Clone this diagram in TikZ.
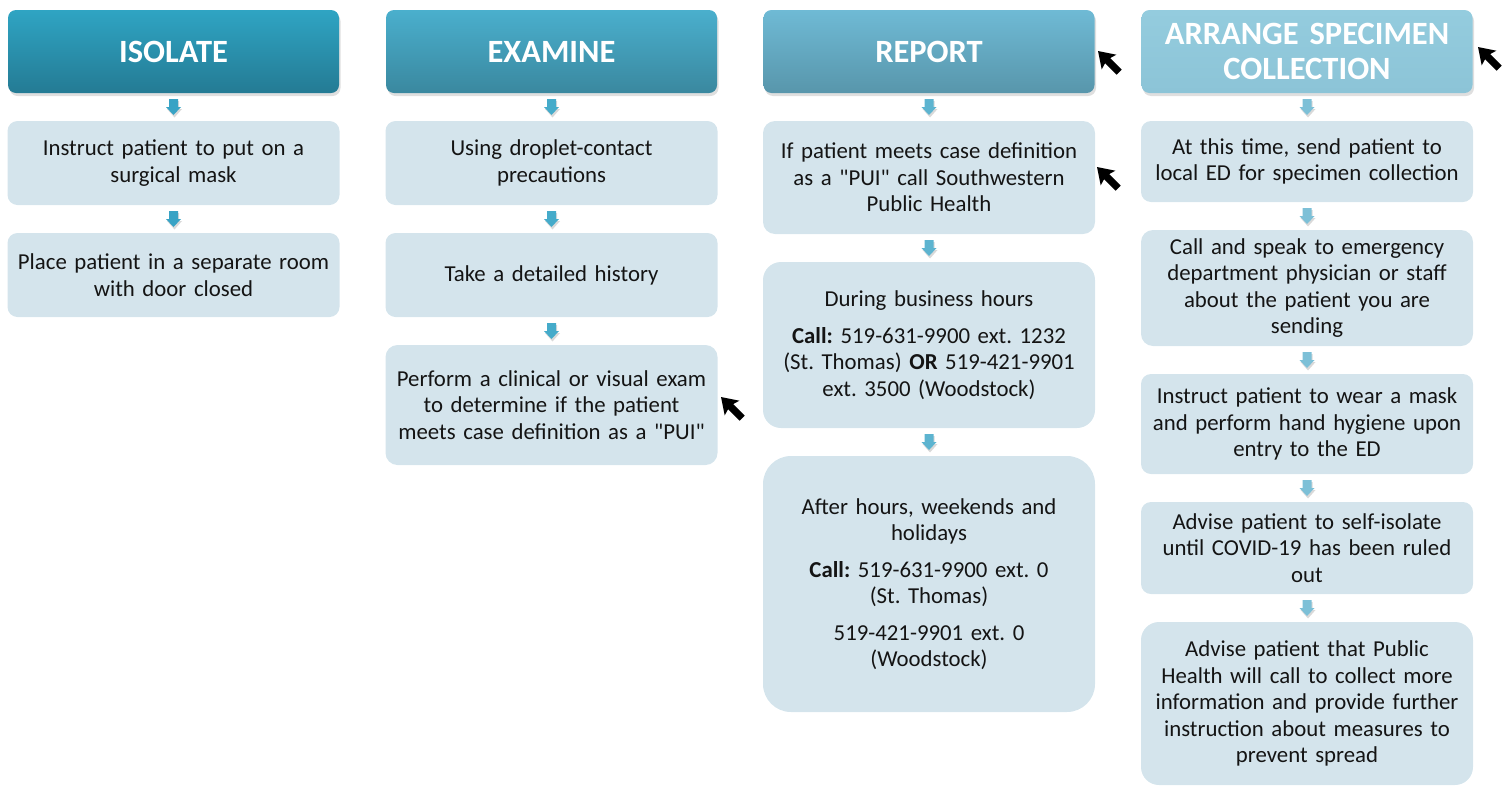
\documentclass[tikz,border=0pt]{standalone}
\usepackage{fontspec}
\setmainfont{Carlito}
\newfontfamily\dqfont{Carlito}
\usetikzlibrary{positioning,calc,shadows}

\definecolor{boxfill}{HTML}{D4E4EC}
\definecolor{txtcol}{HTML}{141414}
\definecolor{isoTop}{HTML}{2FA4C3}
\definecolor{isoBot}{HTML}{247B94}
\definecolor{exaTop}{HTML}{4AAFCD}
\definecolor{exaBot}{HTML}{3A889F}
\definecolor{repTop}{HTML}{6FBAD5}
\definecolor{repBot}{HTML}{5896AB}
\definecolor{arrTop}{HTML}{94CCDE}
\definecolor{arrBot}{HTML}{8CC4D7}
\definecolor{isoArr}{HTML}{38A3C5}
\definecolor{exaArr}{HTML}{45ABCA}
\definecolor{repArr}{HTML}{5DB4D0}
\definecolor{arrArr}{HTML}{7DC0D7}

\newcommand\dq{{\dqfont"}}

\tikzset{
  hdr/.style={rounded corners=8pt, minimum width=331pt, minimum height=83pt,
    text width=320pt, align=center, text=white, inner sep=0pt,
    font=\fontsize{32.5}{35}\selectfont\bfseries,
    drop shadow={shadow xshift=1.5pt, shadow yshift=-3pt, opacity=0.25}},
  stepbox/.style={fill=boxfill, rounded corners=#1, minimum width=332pt,
    text width=326pt, align=center, text=txtcol, inner sep=0pt,
    font=\fontsize{22.8}{26.5}\selectfont},
  stepbox/.default=10pt,
  pics/blockarr/.style={code={
    \fill[black, opacity=0.15] (-3.5,-6) -- (5.5,-6) -- (5.5,2) -- (8.5,2) -- (1,10.5) -- (-6.5,2) -- (-3.5,2) -- cycle;
    \fill[#1] (-4.5,-8) -- (4.5,-8) -- (4.5,0) -- (7.5,0) -- (0,8) -- (-7.5,0) -- (-4.5,0) -- cycle;
  }},
  pics/cursor/.style={code={
    \fill[black, scale=1.3] (0,0) -- (2.83,14.14) -- (5.44,9.40) -- (14.28,18.24)
      -- (18.24,14.28) -- (9.40,5.44) -- (14.14,2.83) -- cycle;
  }},
}

\begin{document}
\frenchspacing
\begin{tikzpicture}[x=1pt, y=-1pt]
    \useasboundingbox (0,0) rectangle (1502,785);

    % isolate
    \node[hdr, top color=isoTop, bottom color=isoBot] (isolate) at (173.5,51.5) {ISOLATE};
    \node[stepbox, minimum height=84pt] (iso1) at (173.5,163) {Instruct patient to put on a\\surgical mask};
    \node[stepbox, minimum height=84pt] (iso2) at (173.5,275) {Place patient in a separate room\\with door closed};

    % examine
    \node[hdr, top color=exaTop, bottom color=exaBot] (examine) at (551.5,51.5) {EXAMINE};
    \node[stepbox, minimum height=84pt] (exa1) at (551.5,163) {Using droplet-contact\\precautions};
    \node[stepbox, minimum height=84pt] (exa2) at (551.5,275) {Take a detailed history};
    \node[stepbox=12pt, minimum height=120pt] (exa3) at (551.5,405) {Perform a clinical or visual exam\\to determine if the patient\\meets case definition as a \dq PUI\dq};

    % report
    \node[hdr, top color=repTop, bottom color=repBot] (report) at (929,51.5) {REPORT};
    \node[stepbox=12pt, minimum height=113pt] (rep1) at (929,177.5) {If patient meets case definition\\as a \dq PUI\dq{} call Southwestern\\Public Health};
    \node[stepbox=18pt, minimum height=166pt] (rep2) at (929,345) {During business hours\\[10pt]\textbf{Call:} 519-631-9900 ext. 1232\\(St. Thomas) \textbf{OR} 519-421-9901\\ext. 3500 (Woodstock)};
    \node[stepbox=28pt, minimum height=256pt] (rep3) at (929,584) {After hours, weekends and\\holidays\\[10pt]\textbf{Call:} 519-631-9900 ext. 0\\(St. Thomas)\\[10pt]519-421-9901 ext. 0\\(Woodstock)};

    % arrange specimen collection
    \node[hdr, top color=arrTop, bottom color=arrBot] (arrange) at (1307,51.5) {ARRANGE SPECIMEN\\COLLECTION};
    \node[stepbox, minimum height=81pt] (spc1) at (1307,161.5) {At this time, send patient to\\local ED for specimen collection};
    \node[stepbox=12pt, minimum height=116pt] (spc2) at (1307,288) {Call and speak to emergency\\department physician or staff\\about the patient you are\\sending};
    \node[stepbox, minimum height=100pt] (spc3) at (1307,424) {Instruct patient to wear a mask\\and perform hand hygiene upon\\entry to the ED};
    \node[stepbox, minimum height=92pt] (spc4) at (1307,548) {Advise patient to self-isolate\\until COVID-19 has been ruled\\out};
    \node[stepbox=18pt, minimum height=163pt] (spc5) at (1307,703.5) {Advise patient that Public\\Health will call to collect more\\information and provide further\\instruction about measures to\\prevent spread};

    % arrows between the steps
    \foreach \a/\b/\c in {isolate/iso1/isoArr, iso1/iso2/isoArr,
        examine/exa1/exaArr, exa1/exa2/exaArr, exa2/exa3/exaArr,
        report/rep1/repArr, rep1/rep2/repArr, rep2/rep3/repArr,
        arrange/spc1/arrArr, spc1/spc2/arrArr, spc2/spc3/arrArr, spc3/spc4/arrArr, spc4/spc5/arrArr} {
        \path ($(\a.south)!0.5!(\b.north)$) pic {blockarr=\c};
    }

    % mouse pointers
    \path (1098,51) pic {cursor};
    \path (1478,47) pic {cursor};
    \path (1097,167) pic {cursor};
    \path (721,397) pic {cursor};
\end{tikzpicture}
\end{document}
